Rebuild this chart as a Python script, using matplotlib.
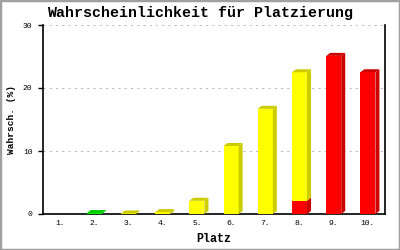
import matplotlib
matplotlib.use("Agg")
import matplotlib.pyplot as plt
from matplotlib.patches import Rectangle

plt.rcParams['lines.scale_dashes'] = False

places = ["1.", "2.", "3.", "4.", "5.", "6.", "7.", "8.", "9.", "10."]
# stacked segments: red (bottom), green, yellow
red_vals = [0, 0, 0, 0, 0, 0, 0, 2.1, 25.1, 22.5]
green_vals = [0, 0.15, 0, 0, 0, 0, 0, 0, 0, 0]
yellow_vals = [0, 0, 0.08, 0.3, 2.1, 10.8, 16.7, 20.4, 0, 0]
yticks = [0, 10, 20, 30]

title = "Wahrscheinlichkeit für Platzierung"
xlabel = "Platz"
ylabel = "Wahrsch. (%)"

colors = {
    "red": ("#ff0000", "#cc0000"),
    "green": ("#00ee00", "#00cc00"),
    "yellow": ("#ffff00", "#cccc00"),
}

fig = plt.figure(figsize=(4, 2.5), dpi=100)
ax = fig.add_axes([43/400, 36/250, 342/400, 189/250])

mono = "Liberation Mono"
W = 0.44
DX = 4/34.2
DY = 3/6.3

xs = list(range(1, len(places) + 1))
for i, x in enumerate(xs):
    base = 0.0
    for key, vals in (("red", red_vals), ("green", green_vals), ("yellow", yellow_vals)):
        v = vals[i]
        if v <= 0:
            continue
        front, dark = colors[key]
        top = base + v
        ax.bar(x, v, bottom=base, width=W, color=front, linewidth=0, zorder=3)
        xr = x + W/2
        xl = x - W/2
        ax.fill([xr, xr + DX, xr + DX, xr], [base, base + DY, top + DY, top],
                color=dark, linewidth=0, zorder=3)
        ax.fill([xl, xl + DX, xr + DX, xr], [top, top + DY, top + DY, top],
                color=dark, linewidth=0, zorder=3)
        base = top

ax.set_xlim(0.5, len(places) + 0.5)
ax.set_ylim(0, 30)
ax.set_xticks(xs)
ax.set_xticklabels(places, family=mono, fontsize=5.8)
ax.set_yticks(yticks)
ax.set_yticklabels([str(t) for t in yticks], family=mono, fontsize=5.8)
ax.tick_params(axis='x', length=0, pad=4)
ax.tick_params(axis='y', length=3.6, width=1, direction='out', pad=4)

ax.yaxis.grid(True, color='#bbbbbb', linestyle=(0, (1.5, 3)), linewidth=0.75, zorder=0)
ax.set_axisbelow(True)
ax.spines['top'].set_visible(False)
for s in ('left', 'right', 'bottom'):
    ax.spines[s].set_linewidth(1.2)
    ax.spines[s].set_color('black')

ax.set_xlabel(xlabel, family=mono, fontsize=8.4, fontweight='bold', labelpad=5)
ax.set_ylabel(ylabel, family=mono, fontsize=6.8, fontweight='bold', labelpad=5)
fig.text(0.5, 1 - 13.5/250, title, family=mono, fontsize=10.8, fontweight='bold',
         ha='center', va='center')

fig.patches.append(Rectangle((0, 0), 1, 1, transform=fig.transFigure, fill=False,
                             edgecolor='#a0a0a0', linewidth=2.5, zorder=10))

fig.savefig("out.png", dpi=100)
